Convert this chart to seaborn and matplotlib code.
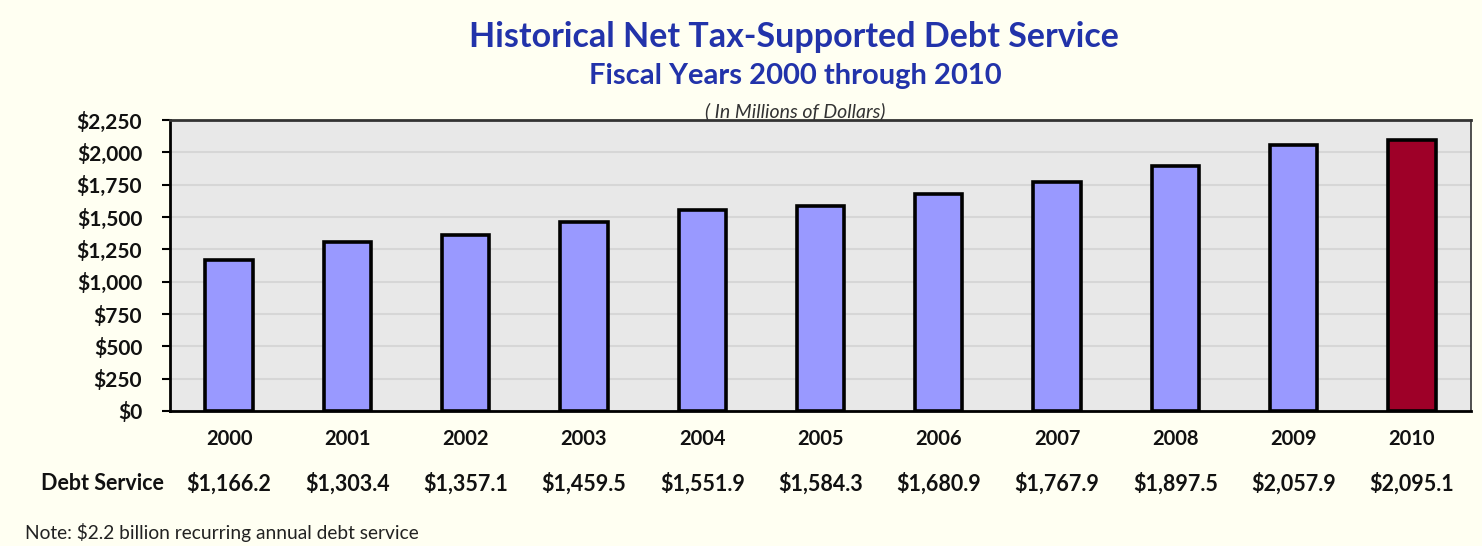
import matplotlib
matplotlib.use("Agg")
import matplotlib.pyplot as plt
import seaborn as sns
import pandas as pd

years = ["2000", "2001", "2002", "2003", "2004", "2005", "2006", "2007", "2008", "2009", "2010"]
debt_service = [1166.2, 1303.4, 1357.1, 1459.5, 1551.9, 1584.3, 1680.9, 1767.9, 1897.5, 2057.9, 2095.1]
y_ticks = [0, 250, 500, 750, 1000, 1250, 1500, 1750, 2000, 2250]

title = "Historical Net Tax-Supported Debt Service"
subtitle = "Fiscal Years 2000 through 2010"
units = "( In Millions of Dollars)"
row_label = "Debt Service"
note = "Note: $2.2 billion recurring annual debt service"

sns.set_theme(style="white")
plt.rcParams["font.family"] = ["Lato", "DejaVu Sans"]

df = pd.DataFrame({"year": years, "value": debt_service})
colors = ["#9999FF"] * (len(years) - 1) + ["#9E0028"]

bg = "#FFFFF2"
fig = plt.figure(figsize=(14.82, 5.46), dpi=100, facecolor=bg)
ax = fig.add_axes([170 / 1482, 1 - 411 / 546, (1471 - 170) / 1482, (411 - 120) / 546])
ax.set_facecolor("#E8E8E8")

sns.barplot(data=df, x="year", y="value", hue="year", palette=colors, legend=False,
            saturation=1, width=0.4, edgecolor="black", linewidth=2.6, ax=ax, zorder=3)

ax.set_ylim(0, 2250)
ax.set_xlim(-0.5, len(years) - 0.5)
ax.set_yticks(y_ticks)
ax.set_yticklabels([f"${v:,}" for v in y_ticks], fontsize=15, fontweight="bold", color="#111111")
ax.yaxis.grid(True, color="#D6D6D6", linewidth=1.5, zorder=0)
ax.set_axisbelow(True)
ax.tick_params(axis="y", which="major", left=True, length=6, width=1.5, color="black", pad=14)
ax.tick_params(axis="x", length=0, pad=13)
ax.set_xticklabels(years, fontsize=14.5, fontweight="bold", color="#111111")
ax.set_xlabel("")
ax.set_ylabel("")
for side in ["left", "bottom", "top", "right"]:
    ax.spines[side].set_visible(True)
    ax.spines[side].set_color("#333333")
    ax.spines[side].set_linewidth(1.2)
ax.spines["left"].set_color("black")
ax.spines["bottom"].set_color("black")
ax.spines["left"].set_linewidth(2)
ax.spines["bottom"].set_linewidth(2)
ax.spines["top"].set_linewidth(2)

# Debt service values row below the year labels
trans = ax.get_xaxis_transform()
for i, v in enumerate(debt_service):
    ax.text(i, -(484 - 411) / 291, f"${v:,.1f}", transform=trans, ha="center", va="center",
            fontsize=15.5, fontweight="bold", color="#111111")
fig.text(102 / 1482, 1 - 484 / 546, row_label, ha="center", va="center",
         fontsize=15.5, fontweight="bold", color="#111111")

fig.text(794 / 1482, 1 - 37 / 546, title, ha="center", va="center",
         fontsize=24.5, fontweight="bold", color="#2233AA")
fig.text(795 / 1482, 1 - 76 / 546, subtitle, ha="center", va="center",
         fontsize=21, fontweight="bold", color="#2233AA")
fig.text(795 / 1482, 1 - 111 / 546, units, ha="center", va="center",
         fontsize=14, style="italic", color="#333333")
fig.text(25 / 1482, 1 - 533 / 546, note, ha="left", va="center",
         fontsize=13.8, color="#222222")

fig.savefig("out.png", dpi=100, facecolor=bg)
